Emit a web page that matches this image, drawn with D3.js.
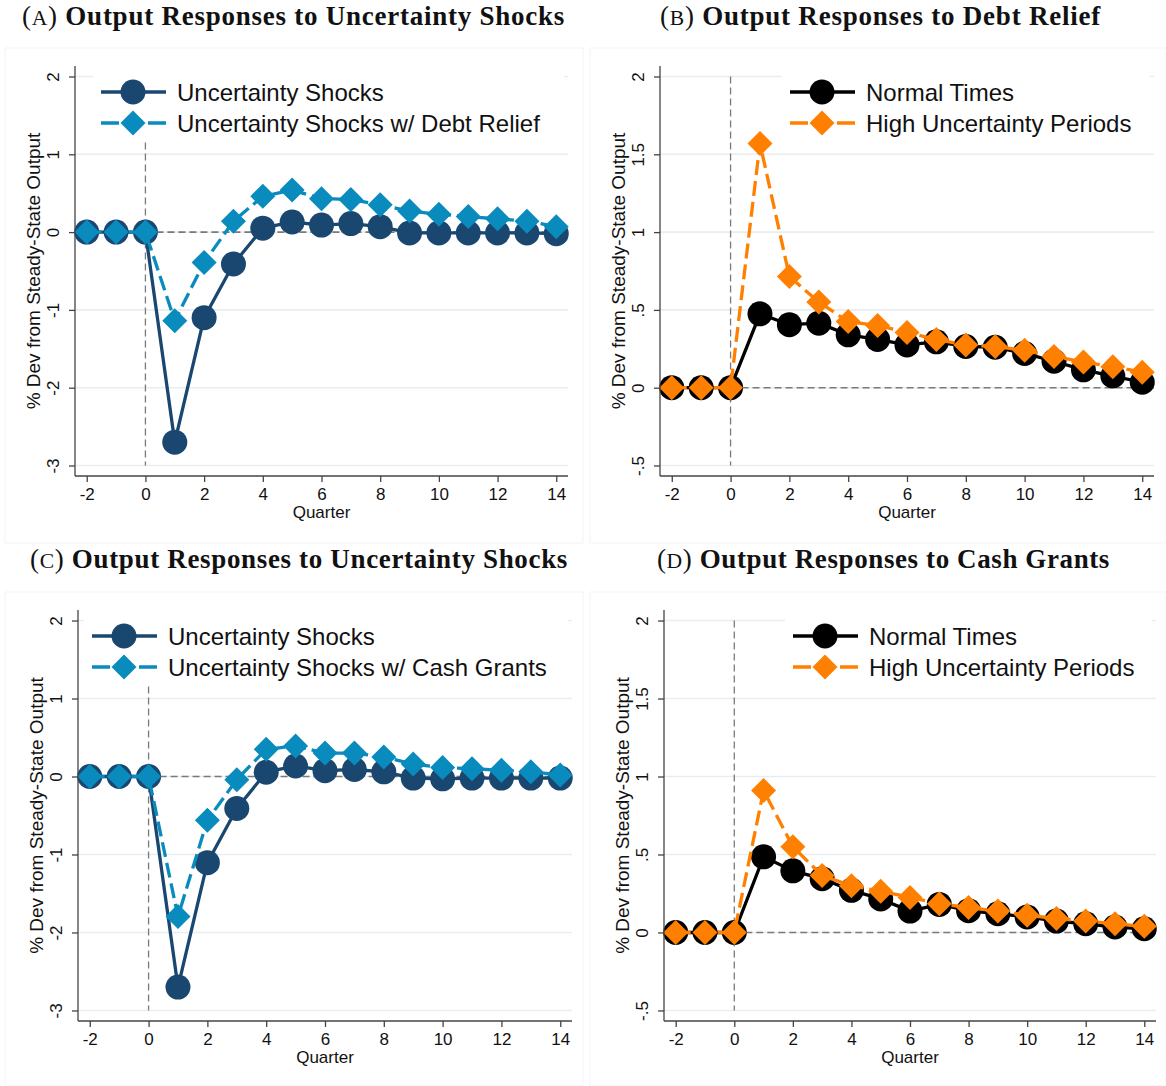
<!DOCTYPE html>
<html>
<head>
<meta charset="utf-8">
<script src="https://cdn.jsdelivr.net/npm/d3@7"></script>
<style>
  html, body { margin: 0; padding: 0; background: #fff; }
  svg { display: block; }
</style>
</head>
<body>
<svg id="chart" width="1166" height="1086"></svg>
<script>
// Impulse responses of output, quarters -2 .. 14
const quarters = [-2, -1, 0, 1, 2, 3, 4, 5, 6, 7, 8, 9, 10, 11, 12, 13, 14];

// (A) uncertainty shocks, with and without debt relief
const shockA      = [0, 0, 0, -2.70, -1.10, -0.41, 0.05, 0.13, 0.09, 0.11, 0.07, -0.01, -0.01, -0.01, -0.01, -0.01, -0.02];
const debtRelief  = [0, 0, 0, -1.14, -0.39, 0.14, 0.46, 0.54, 0.43, 0.42, 0.35, 0.27, 0.23, 0.20, 0.17, 0.14, 0.07];

// (B) debt relief in normal times vs. high uncertainty periods
const normalB     = [0, 0, 0, 0.475, 0.405, 0.415, 0.34, 0.31, 0.275, 0.295, 0.265, 0.26, 0.22, 0.17, 0.115, 0.075, 0.035];
const highB       = [0, 0, 0, 1.57, 0.715, 0.55, 0.425, 0.40, 0.355, 0.31, 0.275, 0.265, 0.24, 0.20, 0.165, 0.135, 0.10];

// (C) uncertainty shocks, with and without cash grants
const shockC      = [0, 0, 0, -2.70, -1.105, -0.41, 0.055, 0.135, 0.075, 0.09, 0.06, -0.02, -0.03, -0.02, -0.02, -0.02, -0.02];
const cashGrants  = [0, 0, 0, -1.795, -0.56, -0.04, 0.35, 0.39, 0.30, 0.30, 0.25, 0.16, 0.115, 0.10, 0.08, 0.06, 0.02];

// (D) cash grants in normal times vs. high uncertainty periods
const normalD     = [0, 0, 0, 0.485, 0.395, 0.345, 0.27, 0.215, 0.137, 0.18, 0.14, 0.12, 0.10, 0.073, 0.056, 0.035, 0.024];
const highD       = [0, 0, 0, 0.91, 0.55, 0.365, 0.30, 0.265, 0.225, 0.185, 0.16, 0.137, 0.11, 0.09, 0.073, 0.056, 0.04];

// Axis ticks
const xTicks          = [-2, 0, 2, 4, 6, 8, 10, 12, 14];
const yTicksShock     = [-3, -2, -1, 0, 1, 2];
const yTicksPolicy    = [-0.5, 0, 0.5, 1, 1.5, 2];

// Text
const panelLetters = ["A", "B", "C", "D"];
const panelTitles  = [
  "Output Responses to Uncertainty Shocks",
  "Output Responses to Debt Relief",
  "Output Responses to Uncertainty Shocks",
  "Output Responses to Cash Grants"
];
const legendA = ["Uncertainty Shocks", "Uncertainty Shocks w/ Debt Relief"];
const legendB = ["Normal Times", "High Uncertainty Periods"];
const legendC = ["Uncertainty Shocks", "Uncertainty Shocks w/ Cash Grants"];
const legendD = ["Normal Times", "High Uncertainty Periods"];
const xTitle = "Quarter";
const yTitle = "% Dev from Steady-State Output";

// Colours
const NAVY   = "#1a476f";
const BLUE   = "#0a8bbd";
const BLACK  = "#000000";
const ORANGE = "#ff8000";

const SANS  = "'Liberation Sans', Arimo, Arial, sans-serif";
const SERIF = "'Liberation Serif', 'Times New Roman', serif";

const panels = [
  { letter: panelLetters[0], title: panelTitles[0], titleX: 22, titleY: 25, titleW: 543,
    frame: [5, 48, 583, 543],
    left: 75, right: 568, top: 66, bottom: 476, yTicks: yTicksShock, legendX: 26,
    series: [
      { name: legendA[0], values: shockA, color: NAVY, dashed: false, marker: "circle" },
      { name: legendA[1], values: debtRelief, color: BLUE, dashed: true, marker: "diamond" }
    ] },
  { letter: panelLetters[1], title: panelTitles[1], titleX: 660, titleY: 25, titleW: 441,
    frame: [590, 48, 1166, 543],
    left: 660, right: 1154, top: 66, bottom: 476, yTicks: yTicksPolicy, legendX: 130,
    series: [
      { name: legendB[0], values: normalB, color: BLACK, dashed: false, marker: "circle" },
      { name: legendB[1], values: highB, color: ORANGE, dashed: true, marker: "diamond" }
    ] },
  { letter: panelLetters[2], title: panelTitles[2], titleX: 30, titleY: 568, titleW: 538,
    frame: [5, 592, 583, 1086],
    left: 78, right: 572, top: 610, bottom: 1021, yTicks: yTicksShock, legendX: 14,
    series: [
      { name: legendC[0], values: shockC, color: NAVY, dashed: false, marker: "circle" },
      { name: legendC[1], values: cashGrants, color: BLUE, dashed: true, marker: "diamond" }
    ] },
  { letter: panelLetters[3], title: panelTitles[3], titleX: 657, titleY: 568, titleW: 453,
    frame: [590, 592, 1166, 1086],
    left: 664, right: 1156, top: 610, bottom: 1021, yTicks: yTicksPolicy, legendX: 129,
    series: [
      { name: legendD[0], values: normalD, color: BLACK, dashed: false, marker: "circle" },
      { name: legendD[1], values: highD, color: ORANGE, dashed: true, marker: "diamond" }
    ] }
];

// Stata-style number labels: ".5", "-.5", "1.5", "-3"
const fmt = v => String(v).replace(/^(-?)0\./, "$1.");

const R = 12.5;      // marker radius / diamond half-diagonal
const diamondPath = r => `M0,${-r}L${r},0L0,${r}L${-r},0Z`;

const TITLE_SIZE = 27;

const svg = d3.select("#chart");

function drawMarker(g, kind, color, cx, cy) {
  if (kind === "circle") {
    g.append("circle").attr("cx", cx).attr("cy", cy).attr("r", R).attr("fill", color);
  } else {
    g.append("path").attr("d", diamondPath(R)).attr("transform", `translate(${cx},${cy})`).attr("fill", color);
  }
}

panels.forEach(p => {
  const g = svg.append("g");

  // faint graph-region outline
  const [fx0, fy0, fx1, fy1] = p.frame;
  g.append("rect").attr("x", fx0).attr("y", fy0).attr("width", fx1 - fx0).attr("height", fy1 - fy0)
    .attr("fill", "none").attr("stroke", "#f1f3f4").attr("stroke-width", 1);

  // title with small-cap panel letter; spacing widened to fill the panel width
  const t = g.append("text").attr("x", p.titleX).attr("y", p.titleY)
    .attr("font-family", SERIF).attr("font-size", TITLE_SIZE).attr("fill", "#111");
  t.append("tspan").text("(");
  t.append("tspan").attr("font-size", "0.8em").text(p.letter);
  t.append("tspan").text(") ");
  t.append("tspan").attr("font-weight", "bold").text(p.title);
  const w = t.node().getComputedTextLength();
  const nChars = (p.title.length + 4);
  t.attr("letter-spacing", Math.max(0, (p.titleW - w) / nChars));

  const yMin = d3.min(p.yTicks), yMax = d3.max(p.yTicks);
  const pad = (yMax - yMin) * 0.027;
  const x = d3.scaleLinear().domain([-2.4, 14.4]).range([p.left, p.right]);
  const y = d3.scaleLinear().domain([yMin - pad, yMax + pad]).range([p.bottom, p.top]);

  // grid
  g.append("g").selectAll("line").data(p.yTicks).join("line")
    .attr("x1", p.left).attr("x2", p.right)
    .attr("y1", d => y(d)).attr("y2", d => y(d))
    .attr("stroke", "#e6eef1").attr("stroke-width", 1.6);

  // reference lines
  g.append("line").attr("x1", x(0)).attr("x2", x(0)).attr("y1", y(yMax)).attr("y2", y(yMin))
    .attr("stroke", "#7a7a7a").attr("stroke-width", 1.3).attr("stroke-dasharray", "7,4");
  g.append("line").attr("x1", x(0)).attr("x2", p.right).attr("y1", y(0)).attr("y2", y(0))
    .attr("stroke", "#7a7a7a").attr("stroke-width", 1.6).attr("stroke-dasharray", "7,4");

  // series
  const line = d3.line().x((d, i) => x(quarters[i])).y(d => y(d));
  p.series.forEach(s => {
    const sg = g.append("g");
    sg.append("path").datum(s.values).attr("d", line)
      .attr("fill", "none").attr("stroke", s.color).attr("stroke-width", 3.3)
      .attr("stroke-linejoin", "round")
      .attr("stroke-dasharray", s.dashed ? "15,6" : null);
    s.values.forEach((v, i) => drawMarker(sg, s.marker, s.color, x(quarters[i]), y(v)));
  });

  // axes
  const yAxis = d3.axisLeft(y).tickValues(p.yTicks).tickFormat(fmt).tickSize(6).tickPadding(4);
  const ya = g.append("g").attr("transform", `translate(${p.left},0)`).call(yAxis);
  ya.select(".domain").attr("d", `M0,${p.top}V${p.bottom}`);
  ya.selectAll("path, line").attr("stroke", "#444").attr("stroke-width", 1.3);
  ya.selectAll("text")
    .attr("font-family", SANS).attr("font-size", 17).attr("fill", "#111")
    .attr("x", null).attr("dy", null)
    .attr("text-anchor", "middle")
    .attr("transform", "translate(-16,0) rotate(-90)");

  const xAxis = d3.axisBottom(x).tickValues(xTicks).tickFormat(fmt).tickSize(6).tickPadding(5);
  const xa = g.append("g").attr("transform", `translate(0,${p.bottom})`).call(xAxis);
  xa.select(".domain").attr("d", `M${p.left},0H${p.right}`);
  xa.selectAll("path, line").attr("stroke", "#444").attr("stroke-width", 1.3);
  xa.selectAll("text").attr("font-family", SANS).attr("font-size", 17).attr("fill", "#111")
    .attr("y", 24).attr("dy", null);

  // axis titles
  g.append("text").attr("x", (p.left + p.right) / 2).attr("y", p.bottom + 42)
    .attr("text-anchor", "middle").attr("font-family", SANS).attr("font-size", 17).attr("fill", "#111")
    .text(xTitle);
  g.append("text")
    .attr("transform", `translate(${p.left - 35},${(p.top + p.bottom) / 2}) rotate(-90)`)
    .attr("text-anchor", "middle").attr("font-family", SANS).attr("font-size", 19).attr("fill", "#111")
    .text(yTitle);

  // legend (inside the plot region, white background)
  const lx = p.left + p.legendX;
  const lg = g.append("g");
  lg.append("rect").attr("x", lx - 8).attr("y", p.top + 2)
    .attr("width", p.right - 4 - (lx - 8)).attr("height", 74).attr("fill", "#fff");
  p.series.forEach((s, k) => {
    const ly = p.top + 26 + k * 31;
    lg.append("line").attr("x1", lx).attr("x2", lx + 65).attr("y1", ly).attr("y2", ly)
      .attr("stroke", s.color).attr("stroke-width", 3.3)
      .attr("stroke-dasharray", s.dashed ? "18,29" : null);
    drawMarker(lg, s.marker, s.color, lx + 32, ly);
    lg.append("text").attr("x", lx + 76).attr("y", ly).attr("dy", "0.36em")
      .attr("font-family", SANS).attr("font-size", 24).attr("fill", "#111")
      .text(s.name);
  });
});
</script>
</body>
</html>
